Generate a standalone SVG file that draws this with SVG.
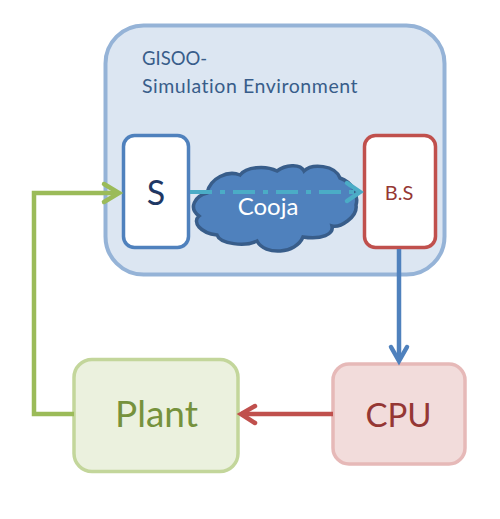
<svg xmlns="http://www.w3.org/2000/svg" width="500" height="519" viewBox="0 0 500 519">
<defs>
<style>
.t{font-family:Lato,"Liberation Sans",sans-serif;text-anchor:middle}
.l{font-family:Lato,"Liberation Sans",sans-serif;fill:#385d8a}
.c{fill:none;stroke-width:4.500;stroke-linejoin:miter}
.h{fill:none;stroke-width:4.500;stroke-linecap:round;stroke-linejoin:miter}
</style>
</defs>
<rect width="500" height="519" fill="#fff"/>
<g id="gisoo">
<rect x="105.500" y="25.500" width="339" height="249" rx="38" fill="#dce6f2" stroke="#95b3d7" stroke-width="4"/>
<text class="l" x="142" y="65" font-size="18.500">GISOO-</text>
<text class="l" x="142" y="93" font-size="19.500" letter-spacing="0.550">Simulation Environment</text>
</g>
<g id="s">
<rect x="123.500" y="135.500" width="65" height="112" rx="11" fill="#fff" stroke="#4f81bd" stroke-width="3.500"/>
<text class="t" x="156" y="205" font-size="34" fill="#1f3864">S</text>
</g>
<g id="bs">
<rect x="364.500" y="135.500" width="71" height="112" rx="11" fill="#fff" stroke="#c0504d" stroke-width="3.500"/>
<text class="t" x="399" y="200" font-size="20" fill="#953734">B.S</text>
</g>
<g id="cooja">
<path d="M207 193C210 178 228 170 240 175C246 167 265 165 277 171C285 165 300 163 304 171C312 163 335 165 340 178C352 182 359 195 356 205C358 217 340 228 332 226C334 234 322 240 303 237C296 254 265 256 257 241C245 247 220 244 217 235C200 233 192 222 199 216C188 208 195 196 207 193Z" fill="#4f81bd" stroke="#385d8a" stroke-width="3.500"/>
<text class="t" x="268" y="215" font-size="24" fill="#fff">Cooja</text>
</g>
<g id="plant">
<rect x="74" y="359.500" width="164" height="112" rx="18" fill="#ebf1de" stroke="#c3d69b" stroke-width="3.500"/>
<text class="t" x="156.500" y="427" font-size="37" fill="#76923c">Plant</text>
</g>
<g id="cpu">
<rect x="333" y="364" width="132" height="100" rx="16" fill="#f2dcdb" stroke="#e6b9b8" stroke-width="3.500"/>
<text class="t" x="398.500" y="427" font-size="33" fill="#953734">CPU</text>
</g>
<g id="connectors">
<path class="c" stroke="#9bbb59" d="M74 414H34V193H118"/>
<path class="h" stroke="#9bbb59" d="M104 184L119 193L104 202"/>
<path fill="none" stroke="#4bacc6" stroke-width="4" stroke-dasharray="22 8 5 8" d="M190 192H358"/>
<path class="h" stroke="#4bacc6" d="M347 183L360 192L347 201"/>
<path class="c" stroke="#4f81bd" d="M399 249V360"/>
<path class="h" stroke="#4f81bd" d="M391 347L399 361L407 347"/>
<path class="c" stroke="#c0504d" d="M333 414H241"/>
<path class="h" stroke="#c0504d" d="M255 406L241 414L255 423"/>
</g>
</svg>
